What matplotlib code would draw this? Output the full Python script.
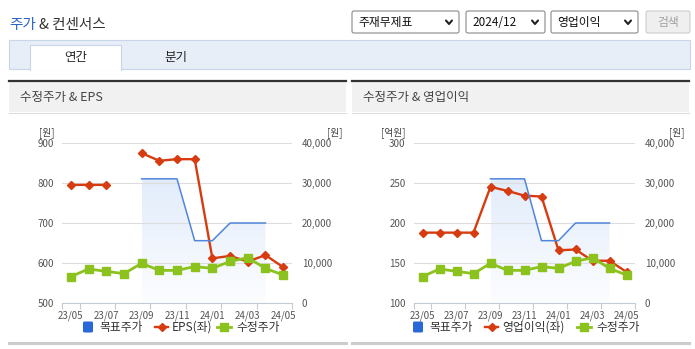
import matplotlib
matplotlib.use('Agg')
import matplotlib.pyplot as plt
from matplotlib.patches import Rectangle, FancyBboxPatch, Polygon
from matplotlib.colors import LinearSegmentedColormap
import numpy as np

plt.rcParams['font.family'] = ['Noto Sans CJK KR', 'DejaVu Sans']

W, H = 695, 349

months = ['23/05', '23/06', '23/07', '23/08', '23/09', '23/10', '23/11',
          '23/12', '24/01', '24/02', '24/03', '24/04', '24/05']
nan = np.nan
eps = [795, 795, 795, nan, 874, 855, 859, 859, 612, 618, 604, 620, 590]
op_income = [188, 188, 188, 188, 245, 240, 234, 233, 166, 167, 153, 153, 139]
price = [6650, 8550, 7950, 7400, 9950, 8200, 8200, 9150, 8700, 10450, 11350, 8700, 7050]
target = [nan, nan, nan, nan, 31000, 31000, 31000, 15600, 15600, 20000, 20000, 20000, nan]

RED = '#d63c10'
GREEN = '#8cc21e'
BLUE = '#4f86dc'
BLUE_SQ = '#2a68d8'
GRID = '#dddddd'
AXC = '#c3cbd9'
TICKC = '#555555'
TICKFONT = ['Liberation Sans Narrow', 'Noto Sans CJK KR', 'DejaVu Sans']

fig = plt.figure(figsize=(W / 100, H / 100), dpi=100)

# background axes in pixel coordinates for the page furniture
bg = fig.add_axes([0, 0, 1, 1], zorder=0)
bg.set_xlim(0, W)
bg.set_ylim(H, 0)
bg.axis('off')

# header
bg.text(9, 25, '주가', color='#2a62c9', fontsize=10.5, va='center', ha='left')
bg.text(39, 25, '& 컨센서스', color='#333333', fontsize=10.5, va='center', ha='left')


def dropdown(x0, x1, label):
    bg.add_patch(FancyBboxPatch((x0, 11), x1 - x0, 22, boxstyle='round,pad=0,rounding_size=2',
                                fc='white', ec='#8a8a8a', lw=0.8))
    bg.text(x0 + 6, 22.5, label, fontsize=8.5, color='#111111', va='center', ha='left')
    cx = x1 - 10
    bg.plot([cx - 3, cx, cx + 3], [20.5, 24, 20.5], color='#222222', lw=1.5, solid_capstyle='round')


dropdown(352, 459, '주재무제표')
dropdown(466, 545, '2024/12')
dropdown(551, 638, '영업이익')
bg.add_patch(FancyBboxPatch((646, 11), 44, 22, boxstyle='round,pad=0,rounding_size=2',
                            fc='#efefef', ec='#cccccc', lw=0.8))
bg.text(668, 22.5, '검색', fontsize=8.5, color='#a0a0a0', va='center', ha='center')

# tab bar
bg.add_patch(Rectangle((9, 40), 681, 29, fc='#e8eef8', ec='#c9d5e8', lw=0.8))
bg.add_patch(Rectangle((30, 45), 91, 25, fc='white', ec='none'))
bg.plot([30, 30, 121, 121], [69.5, 45, 45, 69.5], color='#c9d5e8', lw=0.8)
bg.text(75.5, 57.5, '연간', fontsize=9, color='#222222', va='center', ha='center')
bg.text(176, 57.5, '분기', fontsize=9, color='#222222', va='center', ha='center')

# panel frames
for x0, x1, title in [(9, 346, '수정주가 & EPS'), (352, 689, '수정주가 & 영업이익')]:
    bg.add_patch(Rectangle((x0, 82), x1 - x0, 30, fc='#f1f1f1', ec='none'))
    bg.plot([x0, x1], [81, 81], color='#333333', lw=1.6)
    bg.plot([x0, x1], [112.5, 112.5], color='#dcdcdc', lw=0.8)
    bg.text(x0 + 11, 98, title, fontsize=9, color='#444444', va='center', ha='left')
    bg.plot([x0, x1], [343, 343], color='#cccccc', lw=2.2)


def draw_chart(l, r, left_vals, left_label, ylim, yticks, unit_left, legend_x):
    top, bot = 142.7, 303.3
    ax = fig.add_axes([l / W, 1 - bot / H, (r - l) / W, (bot - top) / H], zorder=1)
    ax2 = ax.twinx()
    ax2.set_zorder(2)
    ax2.patch.set_visible(False)
    x = np.arange(len(months))

    for v in yticks[1:]:
        ax.axhline(v, color=GRID, lw=0.8, zorder=0.5)

    # gradient fill under the target price line
    t = np.array(target, float)
    m = ~np.isnan(t)
    xs, ts = x[m], t[m]
    verts = [(xs[0], 0)] + list(zip(xs, ts)) + [(xs[-1], 0)]
    poly = Polygon(verts, closed=True, transform=ax2.transData, fc='none', ec='none')
    cmap = LinearSegmentedColormap.from_list('g', ['#fcfdff', '#e2ecfb'])
    grad = np.linspace(0, 1, 256).reshape(-1, 1)
    im = ax.imshow(grad, extent=(xs[0], xs[-1], 0, ts.max()), origin='lower', aspect='auto',
                   cmap=cmap, transform=ax2.transData, zorder=0.3, interpolation='bilinear')
    im.set_clip_path(poly)

    ax.plot(x, left_vals, color=RED, lw=1.7, marker='D', ms=4.5, zorder=3)
    ax2.plot(x, target, color=BLUE, lw=1.1, zorder=2)
    ax2.plot(x, price, color=GREEN, lw=2.0, marker='s', ms=6, zorder=3)

    ax.set_xlim(-0.5, len(months) - 0.5)
    ax.set_ylim(*ylim)
    ax2.set_ylim(0, 40000)
    ax.set_yticks(yticks)
    ax.set_yticklabels([str(v) for v in yticks], fontfamily=TICKFONT)
    rt = [0, 10000, 20000, 30000, 40000]
    ax2.set_yticks(rt)
    ax2.set_yticklabels([f'{v:,}' for v in rt], fontfamily=TICKFONT)
    ax.set_xticks(x[::2])
    ax.set_xticklabels(months[::2], fontfamily=TICKFONT)
    ax.set_xticks([-0.5] + list(np.arange(0.5, len(months), 2)), minor=True)
    ax.tick_params(axis='y', length=0, pad=6, labelsize=7, labelcolor=TICKC)
    ax2.tick_params(axis='y', length=0, pad=7, labelsize=7, labelcolor=TICKC)
    ax.tick_params(axis='x', which='major', length=0, pad=5, labelsize=7, labelcolor=TICKC)
    ax.tick_params(axis='x', which='minor', length=4, width=0.8, color=AXC)
    for s in ['top', 'left', 'right']:
        ax.spines[s].set_visible(False)
    ax.spines['bottom'].set_color(AXC)
    for s in ax2.spines.values():
        s.set_visible(False)

    # unit labels
    bg.text(l - 8, 133, unit_left, fontsize=7, color='#444444', ha='right', va='center')
    bg.text(r + 50, 133, '[원]', fontsize=7, color='#444444', ha='right', va='center')

    # legend
    lx = legend_x
    ly = 327
    bg.add_patch(FancyBboxPatch((lx, ly - 5.5), 10, 11, boxstyle='round,pad=0,rounding_size=1.5',
                                fc=BLUE_SQ, ec='none'))
    bg.text(lx + 16, ly, '목표주가', fontsize=8.5, color='#333333', va='center', ha='left')
    rx = lx + 72
    bg.plot([rx, rx + 13], [ly, ly], color=RED, lw=1.7)
    bg.plot([rx + 6.5], [ly], color=RED, marker='D', ms=4.5)
    bg.text(rx + 17, ly, left_label, fontsize=8.5, color='#333333', va='center', ha='left')
    return ax


draw_chart(62, 292, eps, 'EPS(좌)', (500, 900), [500, 600, 700, 800, 900], '[원]', 83)
draw_chart(414, 635, op_income, '영업이익(좌)', (100, 300), [100, 150, 200, 250, 300], '[억원]', 413)

# green legend entries
for gx in (217, 577):
    bg.plot([gx, gx + 14], [327, 327], color=GREEN, lw=2.0)
    bg.plot([gx + 7], [327], color=GREEN, marker='s', ms=6)
    bg.text(gx + 19, 327, '수정주가', fontsize=8.5, color='#333333', va='center', ha='left')

fig.savefig('out.png', dpi=100)
